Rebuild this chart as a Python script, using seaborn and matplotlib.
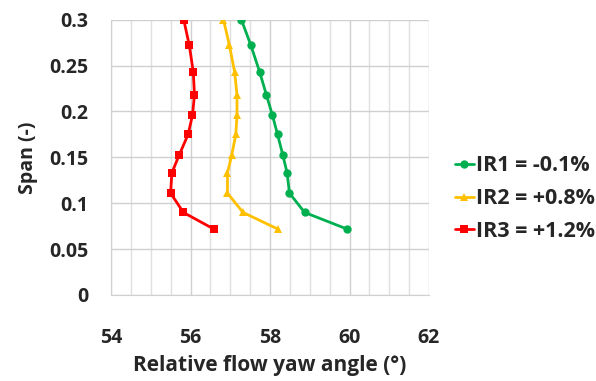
import pandas as pd
import matplotlib.pyplot as plt
import numpy as np
import seaborn as sns
from matplotlib.ticker import MultipleLocator

# span positions (same for all three cases)
span = [0.300, 0.272, 0.243, 0.218, 0.196, 0.175, 0.153, 0.133, 0.111, 0.090, 0.072]

# relative flow yaw angle (deg)
ir1_yaw = [57.28, 57.52, 57.74, 57.91, 58.06, 58.19, 58.32, 58.43, 58.49, 58.87, 59.93]
ir2_yaw = [56.83, 56.98, 57.11, 57.17, 57.17, 57.14, 57.04, 56.93, 56.93, 57.32, 58.19]
ir3_yaw = [55.83, 55.97, 56.07, 56.10, 56.05, 55.94, 55.72, 55.53, 55.50, 55.82, 56.58]

labels = ['IR1 = -0.1%', 'IR2 = +0.8%', 'IR3 = +1.2%']
colors = ['#00B050', '#FFC000', '#FF0000']
markers = ['o', '^', 's']

sns.set_style('white')
plt.rcParams['font.family'] = ['Open Sans', 'DejaVu Sans']

fig = plt.figure(figsize=(5.96, 3.81), dpi=100)
ax = fig.add_axes([111 / 596, 1 - 295 / 381, (429 - 111) / 596, (295 - 19.7) / 381])

for yaw, lab, col, mk in zip([ir1_yaw, ir2_yaw, ir3_yaw], labels, colors, markers):
    df = pd.DataFrame({'yaw': yaw, 'span': span})
    sns.lineplot(data=df, x='yaw', y='span', sort=False, estimator=None, color=col,
                 marker=mk, markersize=6, markeredgewidth=0, linewidth=2, label=lab, ax=ax)

ax.set_xlim(54, 62)
ax.set_ylim(0, 0.3)
ax.xaxis.set_major_locator(MultipleLocator(2))
ax.xaxis.set_minor_locator(MultipleLocator(0.5))
ax.set_yticks([0, 0.05, 0.1, 0.15, 0.2, 0.25, 0.3])
ax.set_yticklabels(['0', '0.05', '0.1', '0.15', '0.2', '0.25', '0.3'])
ax.grid(which='major', color='#d0d0d0', linewidth=1)
ax.grid(which='minor', axis='x', color='#e0e0e0', linewidth=1)
ax.set_axisbelow(True)
for s in ['top', 'right']:
    ax.spines[s].set_visible(False)
for s in ['left', 'bottom']:
    ax.spines[s].set_color('#d0d0d0')
ax.tick_params(axis='both', which='major', length=5.5, color='#d0d0d0', labelsize=14)
ax.tick_params(axis='x', which='major', pad=18)
ax.tick_params(axis='y', which='major', pad=11)
ax.tick_params(axis='both', which='minor', length=0)
for t in ax.get_xticklabels() + ax.get_yticklabels():
    t.set_fontweight('bold')

ax.set_xlabel('Relative flow yaw angle (°)', fontsize=15, fontweight='bold', labelpad=5)
ax.set_ylabel('Span (-)', fontsize=14, fontweight='bold', labelpad=8)

leg = ax.legend(loc='center left', bbox_to_anchor=(1.02, 0.35), frameon=False,
                prop={'size': 15.5, 'weight': 'bold'}, handlelength=0.9, handletextpad=0.1,
                labelspacing=0.55)

fig.savefig('out.png', dpi=100)
